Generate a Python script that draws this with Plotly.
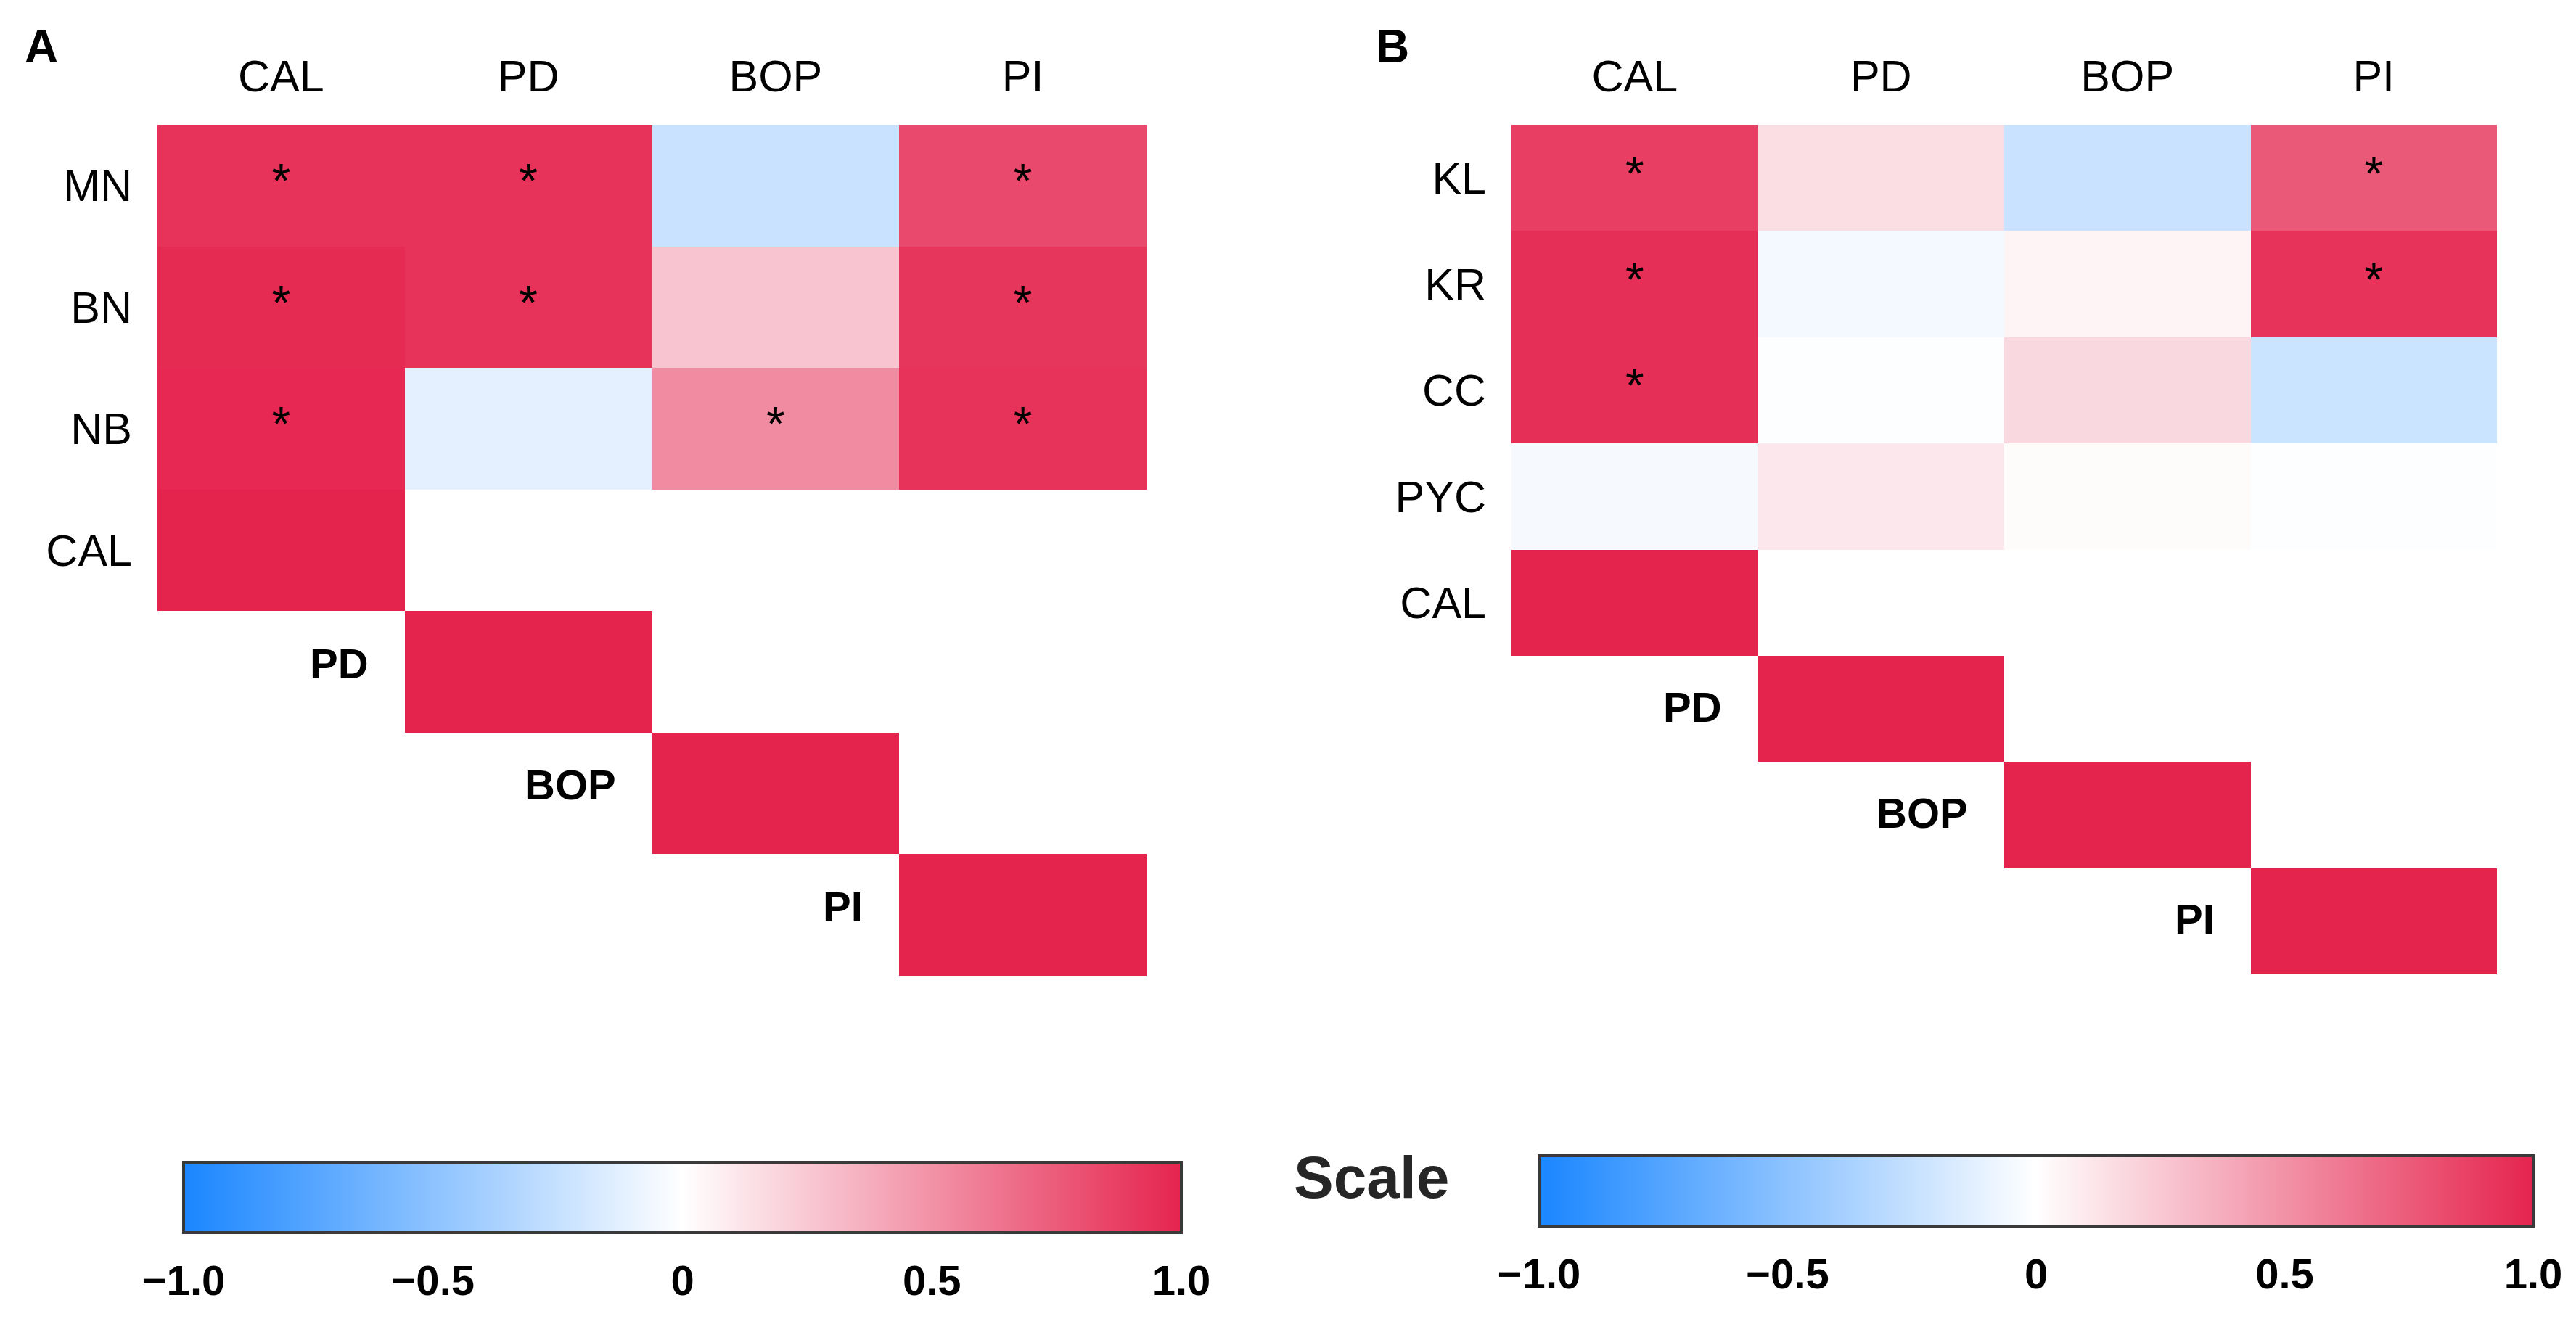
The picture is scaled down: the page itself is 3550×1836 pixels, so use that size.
import plotly.graph_objects as go

# ---------------- data ----------------
cols = ["CAL", "PD", "BOP", "PI"]

rows_a = ["MN", "BN", "NB", "CAL", "PD", "BOP", "PI"]
z_a = [
    [0.93, 0.93, -0.24, 0.83],
    [0.97, 0.93, 0.27, 0.92],
    [0.98, -0.12, 0.53, 0.93],
    [1.00, None, None, None],
    [None, 1.00, None, None],
    [None, None, 1.00, None],
    [None, None, None, 1.00],
]
sig_a = [
    [1, 1, 0, 1],
    [1, 1, 0, 1],
    [1, 0, 1, 1],
    [0, 0, 0, 0],
    [0, 0, 0, 0],
    [0, 0, 0, 0],
    [0, 0, 0, 0],
]

rows_b = ["KL", "KR", "CC", "PYC", "CAL", "PD", "BOP", "PI"]
z_b = [
    [0.88, 0.15, -0.24, 0.76],
    [0.95, -0.05, 0.05, 0.93],
    [0.95, -0.01, 0.18, -0.23],
    [-0.04, 0.11, 0.02, -0.01],
    [1.00, None, None, None],
    [None, 1.00, None, None],
    [None, None, 1.00, None],
    [None, None, None, 1.00],
]
sig_b = [
    [1, 0, 0, 1],
    [1, 0, 0, 1],
    [1, 0, 0, 0],
    [0, 0, 0, 0],
    [0, 0, 0, 0],
    [0, 0, 0, 0],
    [0, 0, 0, 0],
    [0, 0, 0, 0],
]

# rows that get a bold label next to the diagonal cell instead of an axis label
diag_rows = ["PD", "BOP", "PI"]

cb_tickvals = [-1.0, -0.5, 0, 0.5, 1.0]
cb_ticktext = ["\u22121.0", "\u22120.5", "0", "0.5", "1.0"]

# ---------------- style ----------------
OFF = 8                       # page body margin
W, H = 3550 - 2 * OFF, 1836 - 2 * OFF
FONT = "Liberation Sans"
colorscale = [[0.0, "#1A86FF"], [0.5, "#FFFFFF"], [1.0, "#E5244E"]]


def px(x):
    return (x - OFF) / W


def py(y):
    return 1 - (y - OFF) / H


panels = [
    dict(rows=rows_a, z=z_a, sig=sig_a, xa="x", ya="y", xname="xaxis", yname="yaxis",
         box=(217, 1580, 172, 1345),
         cb=dict(x0=253, x1=1628, y0=1602, y1=1699), letter="A", letter_x=32, lab_yshift=12),
    dict(rows=rows_b, z=z_b, sig=sig_b, xa="x2", ya="y2", xname="xaxis2", yname="yaxis2",
         box=(2083, 3441, 172, 1343),
         cb=dict(x0=2121, x1=3491, y0=1593, y1=1690), letter="B", letter_x=1894, lab_yshift=3),
]

fig = go.Figure()
annotations = []
shapes = []

for p in panels:
    cb = p["cb"]
    bx0, bx1, by0, by1 = p["box"]
    cb_len = (cb["x1"] - cb["x0"]) / W
    cb_xc = px((cb["x0"] + cb["x1"]) / 2)
    cb_th = cb["y1"] - cb["y0"]

    fig.add_trace(go.Heatmap(
        z=p["z"], x=cols, y=p["rows"], xaxis=p["xa"], yaxis=p["ya"],
        zmin=-1, zmax=1, colorscale=colorscale, hoverongaps=False,
        colorbar=dict(
            orientation="h", x=cb_xc, xanchor="center", y=py(cb["y0"]), yanchor="top",
            len=cb_len, lenmode="fraction", thickness=cb_th, thicknessmode="pixels",
            xpad=0, ypad=0, outlinewidth=4, outlinecolor="#3a3a3a",
            tickvals=cb_tickvals, ticktext=cb_ticktext,
            ticks="outside", ticklen=15, tickcolor="rgba(0,0,0,0)",
            tickfont=dict(family=FONT, size=58, color="black", weight="bold"),
        ),
    ))

    # asterisks for significant cells
    sx, sy = [], []
    for ri, r in enumerate(p["rows"]):
        for ci, c in enumerate(cols):
            if p["sig"][ri][ci]:
                sx.append(c)
                sy.append(r)
    fig.add_trace(go.Scatter(
        x=sx, y=sy, xaxis=p["xa"], yaxis=p["ya"], mode="text", text=["*"] * len(sx),
        textposition="middle center", textfont=dict(family=FONT, size=66, color="black"),
        hoverinfo="skip", showlegend=False,
    ))

    ticktext = ["" if (r in diag_rows) else r for r in p["rows"]]
    fig.layout[p["xname"]] = dict(
        domain=[px(bx0), px(bx1)], anchor=p["ya"], side="top", type="category",
        categoryorder="array", categoryarray=cols,
        showgrid=False, zeroline=False, showline=False, ticks="",
        tickfont=dict(family=FONT, size=61, color="black"), ticklabelstandoff=33,
    )
    fig.layout[p["yname"]] = dict(
        domain=[py(by1), py(by0)], anchor=p["xa"], type="category",
        categoryorder="array", categoryarray=p["rows"], autorange="reversed",
        tickmode="array", tickvals=p["rows"], ticktext=ticktext,
        showgrid=False, zeroline=False, showline=False, ticks="",
        tickfont=dict(family=FONT, size=61, color="black"), ticklabelstandoff=34,
    )

    # bold labels next to diagonal cells
    for r in diag_rows:
        ci = cols.index(r)
        annotations.append(dict(
            x=ci - 0.5, y=r, xref=p["xa"], yref=p["ya"], text=r, showarrow=False,
            xanchor="right", yanchor="middle", xshift=-48, yshift=p["lab_yshift"],
            font=dict(family=FONT, size=58, color="black", weight="bold"),
        ))

    # panel letter
    annotations.append(dict(
        x=px(p["letter_x"]), y=py(64), xref="paper", yref="paper", text=p["letter"],
        showarrow=False, xanchor="left", yanchor="middle",
        font=dict(family=FONT, size=64, color="black", weight="bold"),
    ))

    # small inner tick marks on the colour bar (top and bottom)
    for v in cb_tickvals[1:-1]:
        xv = px(cb["x0"] + (v + 1) / 2 * (cb["x1"] - cb["x0"]))
        for ya0, ya1 in [(cb["y0"] + 2, cb["y0"] + 17), (cb["y1"] - 17, cb["y1"] - 2)]:
            shapes.append(dict(type="line", xref="paper", yref="paper",
                               x0=xv, x1=xv, y0=py(ya0), y1=py(ya1),
                               line=dict(color="#3a3a3a", width=3)))

annotations.append(dict(
    x=px(1890), y=py(1622), xref="paper", yref="paper", text="Scale", showarrow=False,
    xanchor="center", yanchor="middle",
    font=dict(family=FONT, size=82, color="#262626", weight="bold"),
))

fig.update_layout(
    width=W, height=H, margin=dict(l=0, r=0, t=0, b=0),
    paper_bgcolor="white", plot_bgcolor="white",
    annotations=annotations, shapes=shapes, showlegend=False,
)

fig.write_html("out.html")
